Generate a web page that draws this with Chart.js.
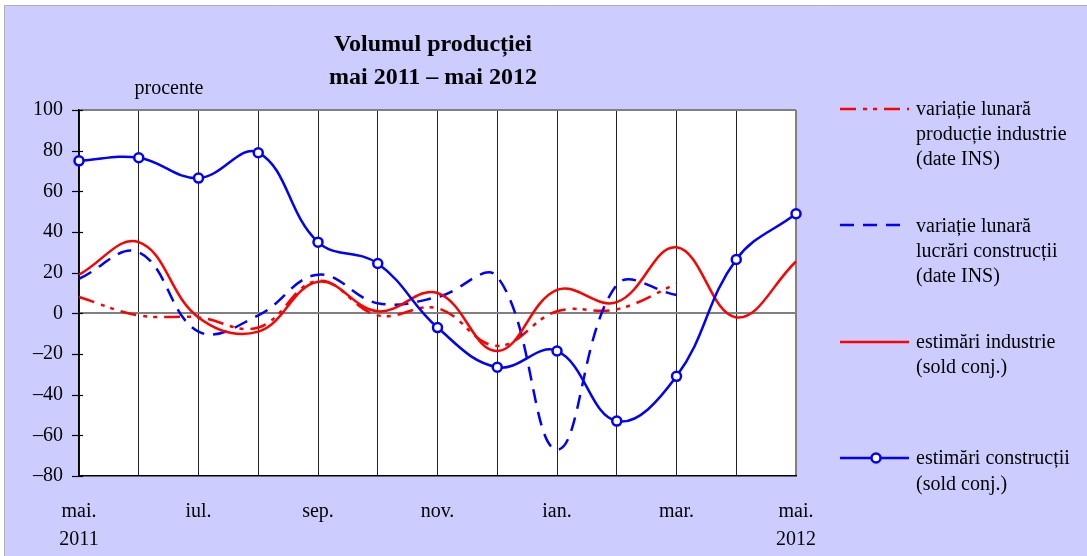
<!DOCTYPE html>
<html>
<head>
<meta charset="utf-8">
<script src="https://cdn.jsdelivr.net/npm/chart.js@4.4.1/dist/chart.umd.min.js"></script>
<style>
html,body{margin:0;padding:0;background:#fff;}
canvas{display:block;}
</style>
</head>
<body>
<canvas id="c" width="1087" height="556"></canvas>
<script>
// ---- data ----
const months = ['mai.','iun.','iul.','aug.','sep.','oct.','nov.','dec.','ian.','feb.','mar.','apr.','mai.'];
const years  = ['2011','','','','','','','','','','','','2012'];
const industrieINS   = [8, -1, -2, -7, 16, -1, 2.5, -16, 1, 2, 14.5, null, null];
const constructiiINS = [17, 30, -9, -1, 19, 5, 8, 18, -67, 14, 9, null, null];
const industrieEst   = [19, 35, -2, -9, 15.5, 1, 10, -18.5, 11.5, 5.5, 32.5, -2, 25.5];
const constructiiEst = [75, 76.5, 66.5, 79, 35, 24.5, -7, -26.5, -18.5, -53, -31, 26.5, 49];
const yMin = -80, yMax = 100, yStep = 10, yLabelStep = 20;
const titleLines = ['Volumul producției', 'mai 2011 – mai 2012'];
const unitLabel = 'procente';
const seriesNames = [
  ['variație lunară', 'producție industrie', '(date INS)'],
  ['variație lunară', 'lucrări construcții', '(date INS)'],
  ['estimări industrie', '(sold conj.)'],
  ['estimări construcții', '(sold conj.)']
];

const RED = '#ff0000', BLUE = '#0000ff';
const SERIF = '"Liberation Serif", "Times New Roman", serif';
Chart.defaults.font.family = SERIF;
Chart.defaults.color = '#000';

const dashDot = [16, 7, 4, 6, 4, 7];
const dashed = [14, 9];

const framePlugin = {
  id: 'frame',
  beforeDraw(chart) {
    const ctx = chart.ctx, W = chart.width, H = chart.height, a = chart.chartArea;
    ctx.save();
    ctx.fillStyle = '#fff';
    ctx.fillRect(0, 0, W, H);
    ctx.fillStyle = '#ccccff';
    ctx.fillRect(4, 5, W - 4, H - 5);
    ctx.strokeStyle = '#b0b0b0';
    ctx.lineWidth = 1;
    ctx.beginPath();
    ctx.moveTo(4.5, H); ctx.lineTo(4.5, 5.5); ctx.lineTo(W, 5.5);
    ctx.stroke();
    ctx.fillStyle = '#fff';
    ctx.fillRect(a.left, a.top, a.right - a.left, a.bottom - a.top);
    ctx.restore();
  },
  beforeDatasetsDraw(chart) {
    const ctx = chart.ctx, a = chart.chartArea, ys = chart.scales.y;
    ctx.save();
    ctx.strokeStyle = '#000';
    ctx.lineWidth = 1.2;
    ys.ticks.forEach(t => {
      const p = Math.round(ys.getPixelForValue(t.value)) + 0.5;
      const major = t.value % yLabelStep === 0;
      ctx.beginPath();
      ctx.moveTo(major ? a.left - 7 : a.left, p);
      ctx.lineTo(a.left + 4, p);
      ctx.stroke();
    });
    ctx.restore();
  },
  afterDraw(chart) {
    const ctx = chart.ctx;
    ctx.save();
    // title
    ctx.fillStyle = '#000';
    ctx.textAlign = 'center';
    ctx.textBaseline = 'middle';
    ctx.font = 'bold 24px ' + SERIF;
    ctx.fillText(titleLines[0], 433, 45);
    ctx.fillText(titleLines[1], 433, 78);
    ctx.font = '20px ' + SERIF;
    ctx.fillText(unitLabel, 169, 89);
    // legend: dataset index for each legend entry
    const items = [
      {ds: 3, ly: 109, ty: [110, 135, 160]},
      {ds: 2, ly: 225, ty: [227, 252, 277]},
      {ds: 1, ly: 342, ty: [343, 368]},
      {ds: 0, ly: 458, ty: [459, 485]}
    ];
    items.forEach((it, i) => {
      const d = chart.data.datasets[it.ds];
      ctx.strokeStyle = d.borderColor;
      ctx.lineWidth = d.borderWidth;
      ctx.setLineDash(d.borderDash || []);
      ctx.beginPath();
      ctx.moveTo(840, it.ly); ctx.lineTo(909, it.ly);
      ctx.stroke();
      ctx.setLineDash([]);
      if (d.pointRadius > 0) {
        ctx.beginPath();
        ctx.arc(876, it.ly, d.pointRadius, 0, Math.PI * 2);
        ctx.fillStyle = d.pointBackgroundColor;
        ctx.fill();
        ctx.lineWidth = d.pointBorderWidth;
        ctx.strokeStyle = d.pointBorderColor;
        ctx.stroke();
      }
      ctx.fillStyle = '#000';
      ctx.textAlign = 'left';
      ctx.font = '20px ' + SERIF;
      seriesNames[i].forEach((s, k) => ctx.fillText(s, 916, it.ty[k]));
    });
    ctx.restore();
  }
};

new Chart(document.getElementById('c'), {
  type: 'line',
  data: {
    labels: months.map((m, i) => years[i] ? m + ' ' + years[i] : m),
    datasets: [
      {data: constructiiEst, borderColor: BLUE, borderWidth: 2.5, tension: 0.4,
       pointRadius: 4.5, pointBorderWidth: 2.5, pointBackgroundColor: '#fff', pointBorderColor: BLUE,
       fill: false, clip: false, order: 0},
      {data: industrieEst, borderColor: RED, borderWidth: 2.5, tension: 0.4, pointRadius: 0, fill: false, order: 1},
      {data: constructiiINS, borderColor: BLUE, borderWidth: 2.5, borderDash: dashed, tension: 0.4, pointRadius: 0, fill: false, order: 2},
      {data: industrieINS, borderColor: RED, borderWidth: 2.5, borderDash: dashDot, tension: 0.4, pointRadius: 0, fill: false, order: 3}
    ]
  },
  options: {
    responsive: false,
    animation: false,
    devicePixelRatio: 1,
    events: [],
    layout: {padding: {left: 0, top: 110, right: 291, bottom: 0}},
    plugins: {legend: {display: false}, tooltip: {enabled: false}, title: {display: false}},
    elements: {line: {capBezierPoints: true}},
    scales: {
      x: {
        type: 'category',
        offset: false,
        grid: {
          drawTicks: false,
          color: c => c.index === months.length - 1 ? '#808080' : '#222',
          lineWidth: c => c.index === months.length - 1 ? 2 : 1
        },
        border: {display: true, color: '#000', width: 1.5},
        ticks: {
          autoSkip: false, maxRotation: 0, minRotation: 0, padding: 22,
          font: {size: 20, lineHeight: 1.4}, color: '#000',
          callback: (v, i) => i % 2 === 0 ? (years[i] ? [months[i], years[i]] : months[i]) : ''
        },
        afterFit: s => { s.height = 80; }
      },
      y: {
        min: yMin, max: yMax,
        grid: {
          drawTicks: false,
          color: c => (c.tick && (c.tick.value === 0 || c.tick.value === yMax)) ? '#808080' : 'rgba(0,0,0,0)',
          lineWidth: c => (c.tick && (c.tick.value === 0 || c.tick.value === yMax)) ? 2 : 0
        },
        border: {display: true, color: '#000', width: 1.5},
        ticks: {
          stepSize: yStep, padding: 16, font: {size: 20}, color: '#000',
          callback: v => v % yLabelStep === 0 ? (v < 0 ? '–' + Math.abs(v) : String(v)) : ''
        },
        afterFit: s => { s.width = 79; }
      }
    }
  },
  plugins: [framePlugin]
});
</script>
</body>
</html>
